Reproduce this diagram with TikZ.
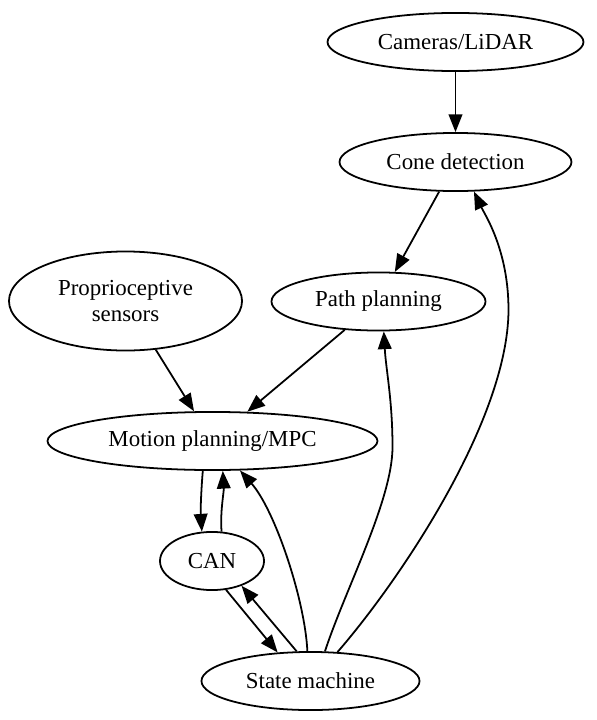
\documentclass[tikz,border=0pt]{standalone}
\usepackage{fontspec}
\setmainfont{Liberation Serif}
\usetikzlibrary{shapes,arrows.meta,positioning}
\tikzset{
  blob/.style={draw,ellipse,line width=1.1pt,inner sep=0pt,align=center,
    minimum height=36pt,font=\fontsize{14.2}{16.5}\selectfont},
  edge/.style={line width=1.1pt,-{Triangle[length=11pt,width=8.5pt]}}
}
\begin{document}
\begin{tikzpicture}[x=0.62pt,y=-0.62pt]
          \useasboundingbox (0,0) rectangle (597,720);
          % nodes
          \node[blob,minimum width=158.7pt] (cam) at (455.5,42) {Cameras/LiDAR};
          \node[blob,minimum width=143.8pt] (cone) at (455.5,162) {Cone detection};
          \node[blob,minimum width=132.7pt] (path) at (378.5,301.5) {Path planning};
          \node[blob,minimum width=144.5pt,minimum height=61.4pt] (prop) at (125.5,301) {Proprioceptive\\sensors};
          \node[blob,minimum width=204.6pt] (mpc) at (212.5,441) {Motion planning/MPC};
          \node[blob,minimum width=64.5pt] (can) at (212,561) {CAN};
          \node[blob,minimum width=135.2pt] (sm) at (310.5,681) {State machine};
          % edges
          \draw[edge] (cam) -- (cone);
          \draw[edge] (cone) -- (path);
          \draw[edge] (prop) -- (mpc);
          \draw[edge] (path) -- (mpc);
          \draw[edge] (mpc.252) .. controls (201,492) and (200.5,512) .. (can.109);
          \draw[edge] (can.72) .. controls (220,512) and (224,492) .. (mpc.289);
          \draw[edge] (can.296) -- (sm.139);
          \draw[edge] (sm.115) -- (can.320);
          \draw[edge] (sm.96) .. controls (305,600) and (275,510) .. (mpc.313);
          \draw[edge] (sm.64) .. controls (345,590) and (392.5,500) .. (392.5,447)
                      .. controls (392.5,400) and (386,370) .. (path.280);
          \draw[edge] (sm.47) .. controls (400,580) and (508,420) .. (508.5,310)
                      .. controls (508.5,250) and (485,215) .. (cone.302);
\end{tikzpicture}
\end{document}
